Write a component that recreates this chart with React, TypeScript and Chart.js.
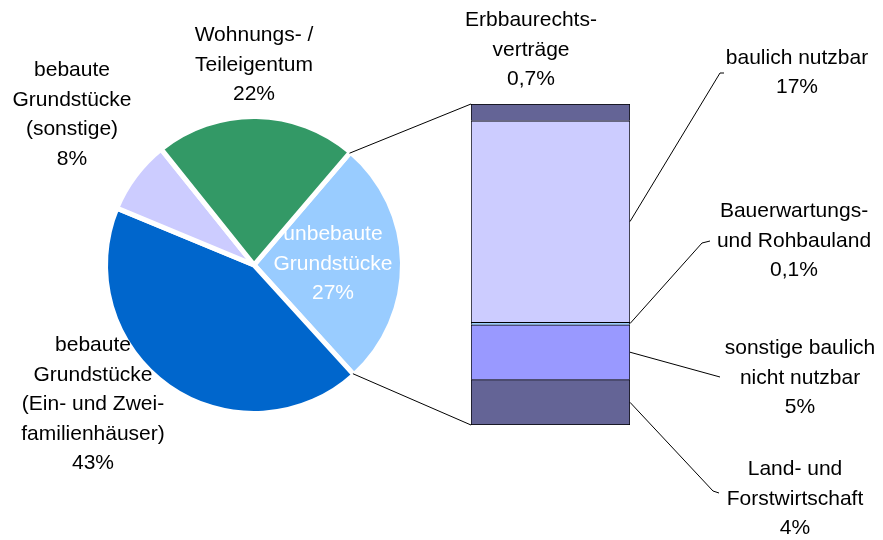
import React, { useEffect, useRef } from 'react';
import { Chart, registerables } from 'chart.js';

Chart.register(...registerables);

// ---- data ----
const pieLabels = [
  'unbebaute Grundstücke',
  'bebaute Grundstücke (Ein- und Zweifamilienhäuser)',
  'bebaute Grundstücke (sonstige)',
  'Wohnungs- / Teileigentum',
];
const pieValues = [27, 43, 8, 22];
const piePercentTexts = ['27%', '43%', '8%', '22%'];
const pieColors = ['#99CCFF', '#0066CC', '#CCCCFF', '#339966'];

const barLabels = [
  'Land- und Forstwirtschaft',
  'sonstige baulich nicht nutzbar',
  'Bauerwartungs- und Rohbauland',
  'baulich nutzbar',
  'Erbbaurechtsverträge',
];
const barValues = [3.8, 4.6, 0.2, 16.9, 1.4];
const barPercentTexts = ['4%', '5%', '0,1%', '17%', '0,7%'];
const barColors = ['#646496', '#9999FF', '#99CCFF', '#CCCCFF', '#646496'];

// ---- layout (label placement) ----
const FONT = '21px "Liberation Sans", Arial, sans-serif';
const LINE_H = 29.5;

const pieLabelLayout = [
  { lines: ['unbebaute', 'Grundstücke'], x: 333, y: 240, color: '#FFFFFF' },
  { lines: ['bebaute', 'Grundstücke', '(Ein- und Zwei-', 'familienhäuser)'], x: 93, y: 351, color: '#000000' },
  { lines: ['bebaute', 'Grundstücke', '(sonstige)'], x: 72, y: 76, color: '#000000' },
  { lines: ['Wohnungs- /', 'Teileigentum'], x: 254, y: 41, color: '#000000' },
];

const barLabelLayout = [
  { lines: ['Land- und', 'Forstwirtschaft'], x: 795, y: 475, leader: [[713, 491], [719, 493]] },
  { lines: ['sonstige baulich', 'nicht nutzbar'], x: 800, y: 354, leader: [[720, 377]] },
  { lines: ['Bauerwartungs-', 'und Rohbauland'], x: 794, y: 217, leader: [[702, 243], [710, 241]] },
  { lines: ['baulich nutzbar'], x: 797, y: 63.5, leader: [[720, 73], [724, 73]] },
  { lines: ['Erbbaurechts-', 'verträge'], x: 531, y: 26, leader: null as null | number[][] },
];

export default function App() {
  const pieRef = useRef<HTMLCanvasElement | null>(null);
  const barRef = useRef<HTMLCanvasElement | null>(null);

  useEffect(() => {
    if (!pieRef.current || !barRef.current) return;

    const pieChart = new Chart(pieRef.current, {
      type: 'pie',
      data: {
        labels: pieLabels,
        datasets: [
          {
            data: pieValues,
            backgroundColor: pieColors,
            borderColor: '#FFFFFF',
            borderWidth: 5,
          },
        ],
      },
      options: {
        responsive: false,
        animation: false,
        rotation: 40.5,
        radius: 148.5,
        layout: { padding: { left: 0, right: 375, top: 0, bottom: 10 } },
        plugins: { legend: { display: false }, tooltip: { enabled: false } },
        events: [],
      } as any,
    });

    const overlay = {
      id: 'overlay',
      afterDatasetsDraw(chart: any) {
        const ctx = chart.ctx as CanvasRenderingContext2D;
        ctx.save();
        ctx.strokeStyle = '#000000';
        ctx.lineWidth = 1;

        // connectors from pie slice (first slice) to the bar
        const arc: any = pieChart.getDatasetMeta(0).data[0];
        const ap = arc.getProps(['x', 'y', 'startAngle', 'endAngle', 'outerRadius'], true);
        const r = ap.outerRadius - 1.5;
        const metaTop: any = chart.getDatasetMeta(barValues.length - 1).data[0];
        const metaBot: any = chart.getDatasetMeta(0).data[0];
        const tp = metaTop.getProps(['x', 'y', 'base', 'width'], true);
        const bp = metaBot.getProps(['x', 'y', 'base', 'width'], true);
        const left = tp.x - tp.width / 2;
        ctx.beginPath();
        ctx.moveTo(ap.x + Math.cos(ap.startAngle) * r, ap.y + Math.sin(ap.startAngle) * r);
        ctx.lineTo(left, tp.y);
        ctx.moveTo(ap.x + Math.cos(ap.endAngle) * r, ap.y + Math.sin(ap.endAngle) * r);
        ctx.lineTo(left, bp.base);
        ctx.stroke();

        // leader lines from bar segments
        barLabelLayout.forEach((lay, i) => {
          if (!lay.leader) return;
          const el: any = chart.getDatasetMeta(i).data[0];
          const p = el.getProps(['x', 'y', 'base', 'width'], true);
          const sx = p.x + p.width / 2;
          const sy = (p.y + p.base) / 2;
          ctx.beginPath();
          ctx.moveTo(sx, sy);
          lay.leader.forEach((pt) => ctx.lineTo(pt[0], pt[1]));
          ctx.stroke();
        });

        // labels
        ctx.font = FONT;
        ctx.textAlign = 'center';
        ctx.textBaseline = 'alphabetic';
        pieLabelLayout.forEach((lay, i) => {
          ctx.fillStyle = lay.color;
          const lines = [...lay.lines, piePercentTexts[i]];
          lines.forEach((t, k) => ctx.fillText(t, lay.x, lay.y + k * LINE_H));
        });
        ctx.fillStyle = '#000000';
        barLabelLayout.forEach((lay, i) => {
          const lines = [...lay.lines, barPercentTexts[i]];
          lines.forEach((t, k) => ctx.fillText(t, lay.x, lay.y + k * LINE_H));
        });
        ctx.restore();
      },
    };

    const total = barValues.reduce((a, b) => a + b, 0);
    const barChart = new Chart(barRef.current, {
      type: 'bar',
      data: {
        labels: ['unbebaute Grundstücke'],
        datasets: barValues.map((v, i) => ({
          label: barLabels[i],
          data: [v],
          backgroundColor: barColors[i],
          borderColor: '#000000',
          borderWidth: { top: 1, left: 1, right: 1, bottom: i === 0 ? 1 : 0 },
          borderSkipped: false,
          categoryPercentage: 1,
          barPercentage: 1,
          stack: 's',
        })),
      },
      options: {
        responsive: false,
        animation: false,
        layout: { padding: { left: 471, right: 253, top: 104, bottom: 115 } },
        scales: {
          x: { display: false, stacked: true },
          y: { display: false, stacked: true, min: 0, max: total },
        },
        plugins: { legend: { display: false }, tooltip: { enabled: false } },
        events: [],
      } as any,
      plugins: [overlay],
    });

    return () => {
      barChart.destroy();
      pieChart.destroy();
    };
  }, []);

  return (
    <div style={{ position: 'fixed', left: 0, top: 0, width: 883, height: 540, background: '#FFFFFF' }}>
      <canvas ref={pieRef} width={883} height={540} style={{ position: 'absolute', left: 0, top: 0 }} />
      <canvas ref={barRef} width={883} height={540} style={{ position: 'absolute', left: 0, top: 0 }} />
    </div>
  );
}
